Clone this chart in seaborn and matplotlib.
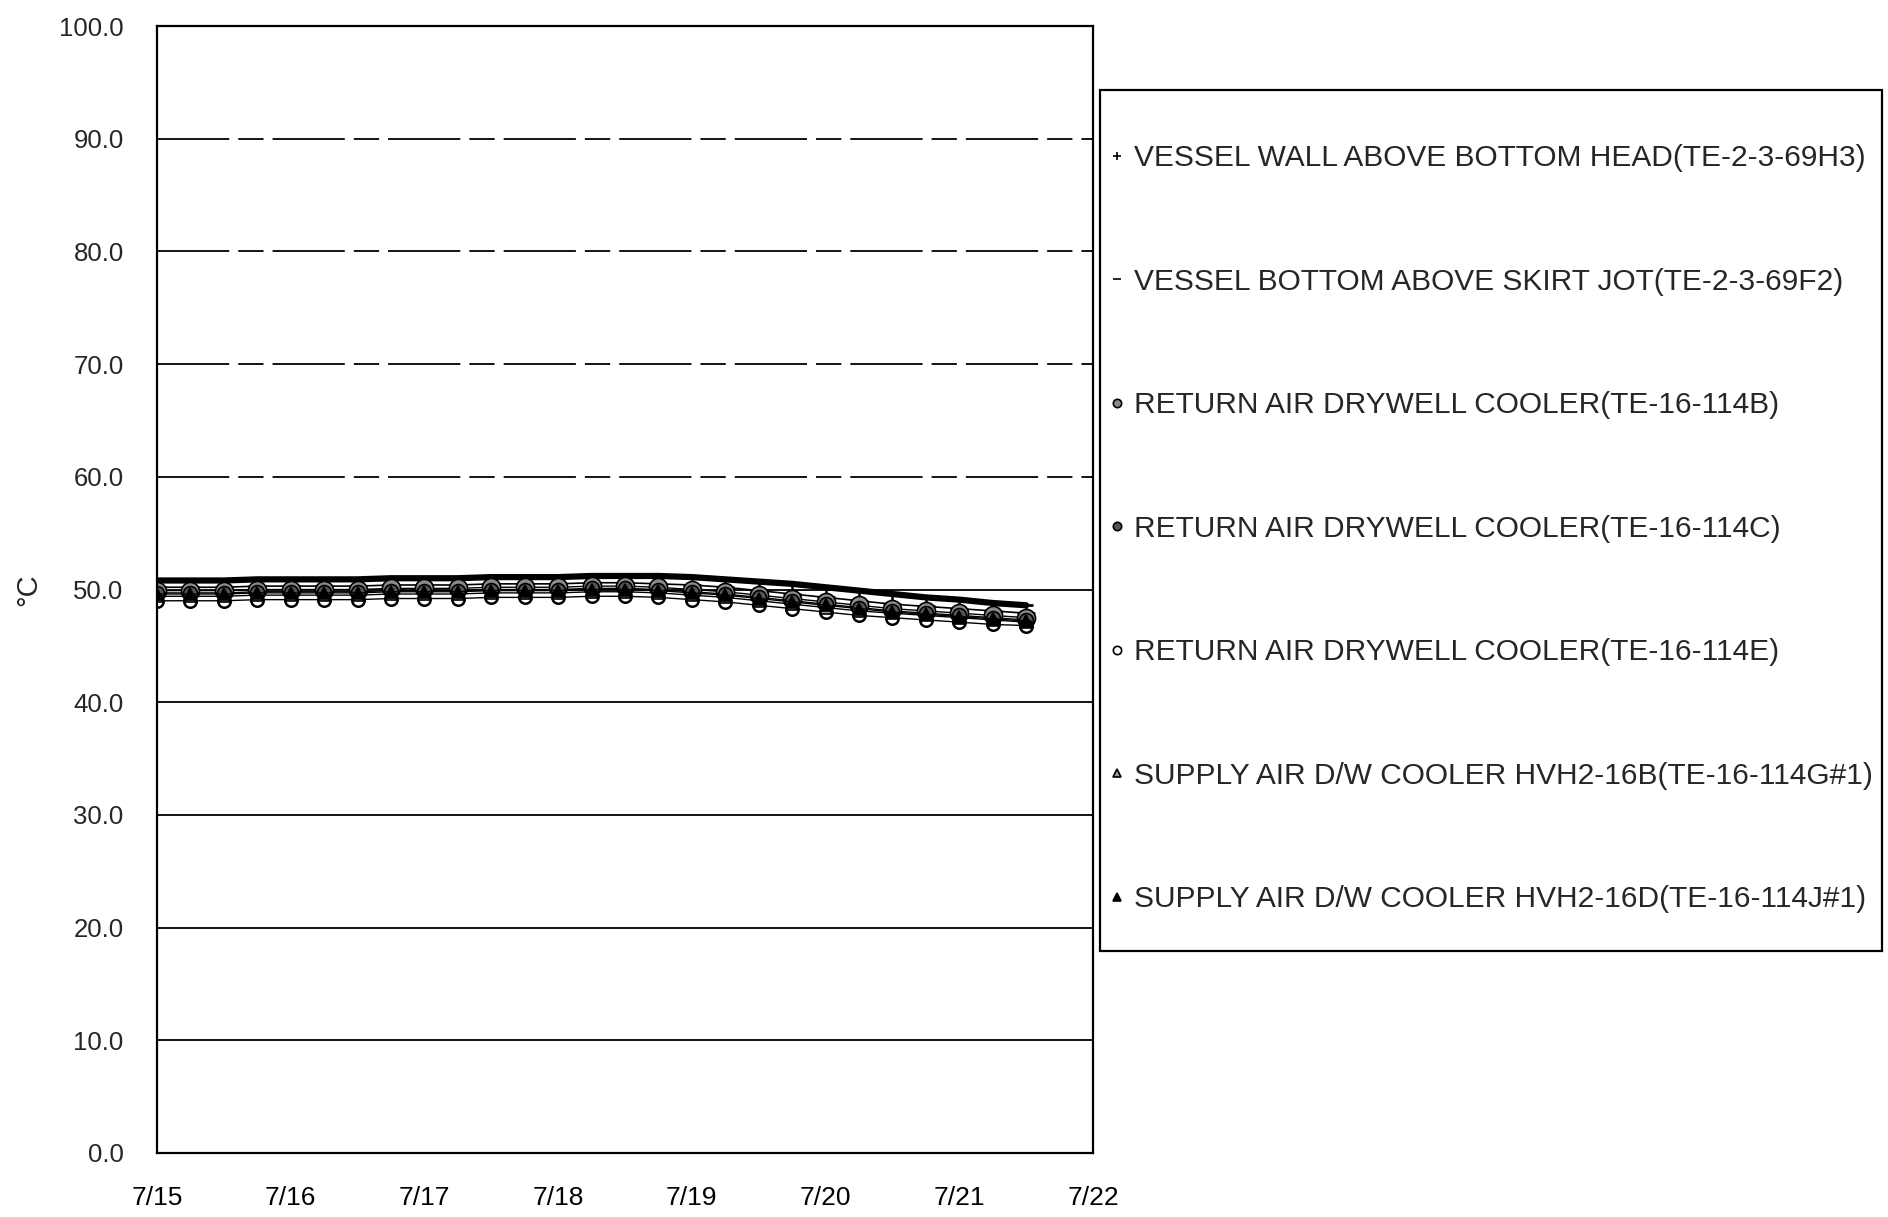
import pandas as pd
import matplotlib.pyplot as plt
from matplotlib.lines import Line2D
from matplotlib.patches import Rectangle
from matplotlib import font_manager
import seaborn as sns

# ==========================
# Data (every 6 hours, 7/15 00:00 -> 7/21 12:00)
# ==========================
series_labels = [
    "VESSEL WALL ABOVE BOTTOM HEAD(TE-2-3-69H3)",
    "VESSEL BOTTOM ABOVE SKIRT JOT(TE-2-3-69F2)",
    "RETURN AIR DRYWELL COOLER(TE-16-114B)",
    "RETURN AIR DRYWELL COOLER(TE-16-114C)",
    "RETURN AIR DRYWELL COOLER(TE-16-114E)",
    "SUPPLY AIR D/W COOLER HVH2-16B(TE-16-114G#1)",
    "SUPPLY AIR D/W COOLER HVH2-16D(TE-16-114J#1)",
]

vessel_wall = [50.2, 50.2, 50.2, 50.3, 50.3, 50.3, 50.3, 50.4, 50.4, 50.4,
               50.5, 50.5, 50.5, 50.6, 50.6, 50.5, 50.4, 50.2, 49.9, 49.6,
               49.3, 49.0, 48.7, 48.5, 48.3, 48.1, 47.9]
vessel_bottom = [50.8, 50.8, 50.8, 50.9, 50.9, 50.9, 50.9, 51.0, 51.0, 51.0,
                 51.1, 51.1, 51.1, 51.2, 51.2, 51.2, 51.1, 50.9, 50.7, 50.5,
                 50.2, 49.9, 49.6, 49.3, 49.1, 48.8, 48.6]
return_b = [49.9, 49.9, 49.9, 50.0, 50.0, 50.0, 50.0, 50.1, 50.1, 50.1,
            50.2, 50.2, 50.2, 50.3, 50.3, 50.2, 50.0, 49.8, 49.5, 49.2,
            48.9, 48.6, 48.3, 48.1, 47.9, 47.7, 47.5]
return_c = [49.7, 49.7, 49.7, 49.8, 49.8, 49.8, 49.8, 49.9, 49.9, 49.9,
            50.0, 50.0, 50.0, 50.1, 50.1, 50.0, 49.8, 49.6, 49.3, 49.0,
            48.7, 48.4, 48.1, 47.9, 47.7, 47.5, 47.3]
return_e = [49.0, 49.0, 49.0, 49.1, 49.1, 49.1, 49.1, 49.2, 49.2, 49.2,
            49.3, 49.3, 49.3, 49.4, 49.4, 49.3, 49.1, 48.9, 48.6, 48.3,
            48.0, 47.7, 47.5, 47.3, 47.1, 46.9, 46.8]
supply_g = [49.4, 49.4, 49.4, 49.5, 49.5, 49.5, 49.5, 49.6, 49.6, 49.6,
            49.7, 49.7, 49.7, 49.8, 49.8, 49.7, 49.5, 49.3, 49.0, 48.7,
            48.4, 48.1, 47.9, 47.7, 47.5, 47.3, 47.1]
supply_j = [49.6, 49.6, 49.6, 49.7, 49.7, 49.7, 49.7, 49.8, 49.8, 49.8,
            49.9, 49.9, 49.9, 50.0, 50.0, 49.9, 49.7, 49.5, 49.2, 48.9,
            48.6, 48.3, 48.0, 47.8, 47.6, 47.4, 47.2]

times = pd.date_range("2011-07-15 00:00", "2011-07-21 12:00", freq="6h")
day_ticks = pd.date_range("2011-07-15", "2011-07-22", freq="D")
y_ticks = [0, 10, 20, 30, 40, 50, 60, 70, 80, 90, 100]

all_values = [vessel_wall, vessel_bottom, return_b, return_c,
              return_e, supply_g, supply_j]

df = pd.concat(
    [pd.DataFrame({"time": times, "temp": v, "sensor": lab})
     for v, lab in zip(all_values, series_labels)],
    ignore_index=True,
)

# marker styles for each sensor
styles = [
    dict(marker="+", ms=13, mew=1.8, mfc="black", mec="black", lw=1.2),
    dict(marker="_", ms=10, mew=2, mfc="black", mec="black", lw=4.5),
    dict(marker="o", ms=13, mew=1.2, mfc="#8a8a8a", mec="black", lw=1),
    dict(marker="o", ms=10, mew=1.2, mfc="#555555", mec="black", lw=1),
    dict(marker="o", ms=9, mew=1.8, mfc="white", mec="black", lw=1),
    dict(marker="^", ms=9, mew=1.2, mfc="#9a9a9a", mec="black", lw=1),
    dict(marker="^", ms=9, mew=1.2, mfc="black", mec="black", lw=1),
]

# ==========================
# Fonts
# ==========================
sns.set_style("white")
try:
    font_manager.findfont("Liberation Sans Narrow", fallback_to_default=False)
    legend_family = "Liberation Sans Narrow"
    legend_size = 25
    legend_spacing = 3.2
except ValueError:
    legend_family = "Liberation Sans"
    legend_size = 21.5
    legend_spacing = 3.2
plt.rcParams["font.family"] = ["Liberation Sans", "DejaVu Sans"]

# ==========================
# Figure
# ==========================
fig = plt.figure(figsize=(18.88, 12.17), dpi=100)
ax = fig.add_axes([157 / 1888, 64 / 1217, 936 / 1888, 1127 / 1217])

for lab, st in zip(series_labels, styles):
    sns.lineplot(data=df[df["sensor"] == lab], x="time", y="temp",
                 color="black", ax=ax, legend=False, **st)

ax.set_xlim(day_ticks[0], day_ticks[-1])
ax.set_ylim(0, 100)
ax.set_yticks(y_ticks)
ax.set_yticklabels([f"{v:.1f}" for v in y_ticks], fontsize=18.5)
ax.set_xticks(day_ticks)
ax.set_xticklabels([f"{d.month}/{d.day}" for d in day_ticks], fontsize=19)
ax.tick_params(axis="y", length=0, pad=24)
ax.tick_params(axis="x", direction="in", length=6, width=1.2, pad=24,
               colors="black")
ax.set_xlabel("")
ax.set_ylabel("°C", fontsize=21, labelpad=12)

for sp in ax.spines.values():
    sp.set_color("black")
    sp.set_linewidth(1.6)

# horizontal grid: upper lines look broken/dashed on the original
ax.yaxis.grid(True, color="black", linewidth=1.3)
for v, gl in zip(ax.get_yticks(), ax.get_ygridlines()):
    if 50 < v < 100:
        gl.set_dashes((40, 5, 14, 5))

# ==========================
# Legend (framed box on the right)
# ==========================
handles = [Line2D([], [], linestyle="none", marker=st["marker"],
                  ms=6, mew=1.2, mfc=st["mfc"], mec="black")
           for st in styles]
fig.legend(handles, series_labels, loc="upper left",
           bbox_to_anchor=(1110 / 1888, 1 - 144 / 1217),
           frameon=False, prop={"family": legend_family, "size": legend_size},
           handlelength=0.5, handletextpad=0.3, labelspacing=legend_spacing,
           borderpad=0, borderaxespad=0)
fig.patches.append(Rectangle((1100 / 1888, 1 - 951 / 1217),
                             782 / 1888, 861 / 1217,
                             transform=fig.transFigure, fill=False,
                             edgecolor="black", linewidth=1.6))

plt.savefig("out.png", dpi=100, facecolor="white")
